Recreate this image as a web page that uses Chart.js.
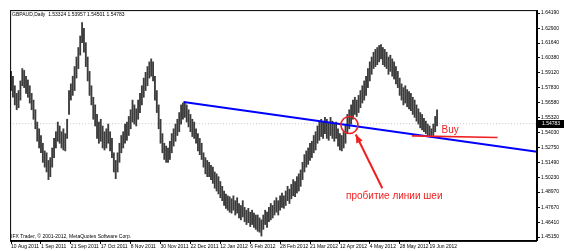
<!DOCTYPE html>
<html>
<head>
<meta charset="utf-8">
<script src="https://cdn.jsdelivr.net/npm/chart.js@4.4.1/dist/chart.umd.min.js"></script>
<style>
  html, body { margin: 0; padding: 0; background: #fff; }
  #wrap { width: 564px; height: 251px; }
</style>
</head>
<body>
<div id="wrap"><canvas id="grafico" width="564" height="251"></canvas></div>
<script>
// GBPAUD daily, 10 Aug 2011 - 22 Jun 2012
const symbolTitle = 'GBPAUD,Daily  1.53324 1.53957 1.54501 1.54783';
const copyright = 'IFX Trader, \u00a9 2001-2012, MetaQuotes Software Corp.';
const lastClose = 1.54783;

const dateLabels = ['10 Aug 2011', '1 Sep 2011', '21 Sep 2011', '17 Oct 2011', '8 Nov 2011',
  '30 Nov 2011', '22 Dec 2011', '12 Jan 2012', '6 Feb 2012', '28 Feb 2012', '21 Mar 2012',
  '12 Apr 2012', '4 May 2012', '28 May 2012', '19 Jun 2012'];
const dateTickBars = [0, 16, 32, 48, 64, 80, 96, 112, 128, 144, 160, 176, 192, 208, 224];

const priceTicks = [1.64190, 1.62900, 1.61640, 1.60380, 1.59120, 1.57830, 1.56580, 1.55320,
  1.54030, 1.52750, 1.51490, 1.50230, 1.48970, 1.47670, 1.46410, 1.45150];

const highs = [
  1.5923, 1.5882, 1.5801, 1.5736, 1.5760, 1.5842, 1.5947, 1.5931, 1.5882, 1.5850,
  1.5801, 1.5736, 1.5679, 1.5597, 1.5492, 1.5435, 1.5378, 1.5312, 1.5247, 1.5231,
  1.5166, 1.5190, 1.5272, 1.5353, 1.5410, 1.5492, 1.5459, 1.5410, 1.5435, 1.5394,
  1.5516, 1.5760, 1.5817, 1.5882, 1.5964, 1.6045, 1.6126, 1.6224, 1.6338, 1.6289,
  1.6167, 1.6045, 1.5923, 1.5801, 1.5703, 1.5638, 1.5557, 1.5492, 1.5516, 1.5459,
  1.5410, 1.5435, 1.5475, 1.5410, 1.5353, 1.5231, 1.5166, 1.5231, 1.5312, 1.5378,
  1.5410, 1.5475, 1.5492, 1.5540, 1.5597, 1.5679, 1.5638, 1.5605, 1.5679, 1.5736,
  1.5801, 1.5866, 1.5915, 1.5964, 1.6004, 1.6029, 1.6004, 1.5882, 1.5760, 1.5638,
  1.5516, 1.5394, 1.5312, 1.5288, 1.5272, 1.5329, 1.5394, 1.5435, 1.5475, 1.5516,
  1.5573, 1.5638, 1.5654, 1.5662, 1.5638, 1.5597, 1.5557, 1.5516, 1.5492, 1.5435,
  1.5394, 1.5353, 1.5312, 1.5231, 1.5190, 1.5166, 1.5150, 1.5125, 1.5109, 1.5068,
  1.5052, 1.5028, 1.4987, 1.4946, 1.4906, 1.4881, 1.4865,
  1.4857, 1.4840, 1.4865, 1.4824, 1.4849, 1.4800, 1.4783, 1.4824, 1.4767, 1.4743,
  1.4759, 1.4726, 1.4743, 1.4718, 1.4702,
  1.4702, 1.4677, 1.4661, 1.4702, 1.4743, 1.4726, 1.4767, 1.4800, 1.4783, 1.4824,
  1.4849, 1.4824, 1.4865, 1.4889, 1.4865, 1.4906, 1.4946, 1.4922, 1.4962, 1.5003,
  1.4987, 1.5028, 1.5052, 1.5085, 1.5150, 1.5215, 1.5247, 1.5272, 1.5312, 1.5329,
  1.5378, 1.5410, 1.5459, 1.5492, 1.5516, 1.5492, 1.5532, 1.5516, 1.5492, 1.5532,
  1.5500, 1.5475, 1.5492, 1.5435, 1.5394, 1.5378, 1.5410, 1.5475, 1.5557, 1.5597,
  1.5638, 1.5679, 1.5703, 1.5679, 1.5719, 1.5760, 1.5801, 1.5842, 1.5882, 1.5947,
  1.6004, 1.6045, 1.6086, 1.6110, 1.6126, 1.6143, 1.6151, 1.6126, 1.6110, 1.6086,
  1.6045, 1.6061, 1.6029, 1.6004, 1.5964, 1.5923, 1.5866, 1.5817,
  1.5785, 1.5801, 1.5768, 1.5752, 1.5736, 1.5703, 1.5679, 1.5638, 1.5605,
  1.5573, 1.5557, 1.5524, 1.5500, 1.5475, 1.5459, 1.5435, 1.5475, 1.5540, 1.5597
];
const lows = [
  1.5760, 1.5703, 1.5638, 1.5597, 1.5614, 1.5679, 1.5801, 1.5785, 1.5736, 1.5703,
  1.5654, 1.5597, 1.5516, 1.5435, 1.5329, 1.5272, 1.5231, 1.5150, 1.5109, 1.5068,
  1.5003, 1.5028, 1.5109, 1.5190, 1.5272, 1.5329, 1.5312, 1.5272, 1.5255, 1.5247,
  1.5353, 1.5557, 1.5679, 1.5719, 1.5760, 1.5866, 1.5947, 1.6061, 1.6167, 1.6086,
  1.5964, 1.5842, 1.5719, 1.5638, 1.5516, 1.5459, 1.5353, 1.5312, 1.5329, 1.5272,
  1.5255, 1.5272, 1.5312, 1.5247, 1.5190, 1.5068, 1.5011, 1.5068, 1.5150, 1.5231,
  1.5272, 1.5312, 1.5337, 1.5378, 1.5435, 1.5492, 1.5475, 1.5459, 1.5516, 1.5573,
  1.5638, 1.5703, 1.5760, 1.5801, 1.5866, 1.5882, 1.5842, 1.5679, 1.5573, 1.5435,
  1.5312, 1.5231, 1.5174, 1.5150, 1.5150, 1.5174, 1.5231, 1.5288, 1.5329, 1.5378,
  1.5410, 1.5475, 1.5516, 1.5532, 1.5492, 1.5451, 1.5410, 1.5369, 1.5353, 1.5312,
  1.5247, 1.5215, 1.5174, 1.5109, 1.5052, 1.5028, 1.5028, 1.5003, 1.4971, 1.4930,
  1.4906, 1.4881, 1.4849, 1.4824, 1.4783, 1.4759, 1.4743,
  1.4726, 1.4718, 1.4743, 1.4702, 1.4718, 1.4677, 1.4661, 1.4686, 1.4645, 1.4621,
  1.4637, 1.4604, 1.4621, 1.4596, 1.4580,
  1.4564, 1.4556, 1.4523, 1.4580, 1.4621, 1.4596, 1.4645, 1.4661, 1.4677, 1.4702,
  1.4726, 1.4702, 1.4743, 1.4767, 1.4759, 1.4783, 1.4824, 1.4800, 1.4840, 1.4865,
  1.4857, 1.4889, 1.4906, 1.4946, 1.5003, 1.5068, 1.5109, 1.5133, 1.5166, 1.5190,
  1.5231, 1.5255, 1.5312, 1.5337, 1.5369, 1.5353, 1.5394, 1.5353, 1.5337, 1.5378,
  1.5353, 1.5329, 1.5353, 1.5288, 1.5255, 1.5247, 1.5272, 1.5312, 1.5394, 1.5435,
  1.5475, 1.5516, 1.5557, 1.5540, 1.5573, 1.5614, 1.5654, 1.5679, 1.5719, 1.5785,
  1.5842, 1.5898, 1.5947, 1.5964, 1.5980, 1.6004, 1.6029, 1.5980, 1.5964, 1.5947,
  1.5898, 1.5923, 1.5882, 1.5858, 1.5817, 1.5785, 1.5719, 1.5679,
  1.5638, 1.5654, 1.5622, 1.5605, 1.5589, 1.5557, 1.5532, 1.5500, 1.5475,
  1.5443, 1.5426, 1.5410, 1.5394, 1.5378, 1.5369, 1.5361, 1.5378, 1.5410, 1.5459
];

// drawn objects (bar index, price)
const necklineBars = [92.3, 281.5];
const necklinePrices = [1.5662, 1.5239];
const buyLineBars = [214.5, 260.4];
const buyLinePrices = [1.5375, 1.5361];
const arrowBars = [198.7, 184.5];
const arrowPrices = [1.4930, 1.5386];
const circleBar = 181.1, circlePrice = 1.5467;
const breakText = 'пробитие линии шеи', breakTextBar = 205.1, breakTextPrice = 1.4865;
const buyText = 'Buy', buyTextBar = 230.4, buyTextPrice = 1.5426;

const X_MIN = -0.527, X_MAX = 281.5;
const Y_MIN = 1.4482, Y_MAX = 1.6444;
const RED = '#f02020';
const tinyFont = { family: 'Liberation Sans', size: 5 };

function pts(xs, ys) { return xs.map((x, i) => ({ x: x, y: ys[i] })); }

const decorPlugin = {
  id: 'decor',
  afterDraw(chart) {
    const ctx = chart.ctx, a = chart.chartArea;
    const sx = chart.scales.x, sy = chart.scales.y;
    ctx.save();
    // frame
    ctx.strokeStyle = '#000';
    ctx.lineWidth = 1;
    ctx.strokeRect(a.left + 0.5, a.top + 0.5, a.right - a.left - 1, a.bottom - a.top);
    // texts in the corner
    ctx.fillStyle = '#000';
    ctx.font = '5px "Liberation Sans"';
    ctx.textBaseline = 'middle';
    ctx.textAlign = 'left';
    ctx.fillText(symbolTitle, a.left + 2, a.top + 5);
    ctx.fillText(copyright, a.left + 1, a.bottom - 4);
    // arrow head
    const x1 = sx.getPixelForValue(arrowBars[0]), y1 = sy.getPixelForValue(arrowPrices[0]);
    const x2 = sx.getPixelForValue(arrowBars[1]), y2 = sy.getPixelForValue(arrowPrices[1]);
    const ang = Math.atan2(y2 - y1, x2 - x1);
    ctx.fillStyle = RED;
    ctx.beginPath();
    ctx.moveTo(x2, y2);
    ctx.lineTo(x2 - 9 * Math.cos(ang - 0.4), y2 - 9 * Math.sin(ang - 0.4));
    ctx.lineTo(x2 - 9 * Math.cos(ang + 0.4), y2 - 9 * Math.sin(ang + 0.4));
    ctx.closePath();
    ctx.fill();
    // red labels
    ctx.font = '10px "Liberation Sans"';
    ctx.textAlign = 'center';
    ctx.fillText(breakText, sx.getPixelForValue(breakTextBar), sy.getPixelForValue(breakTextPrice));
    ctx.textAlign = 'left';
    ctx.fillText(buyText, sx.getPixelForValue(buyTextBar), sy.getPixelForValue(buyTextPrice));
    // current price box on the axis
    const yp = Math.round(sy.getPixelForValue(lastClose));
    ctx.fillStyle = '#000';
    ctx.fillRect(a.right, yp - 4, 27, 8);
    ctx.fillStyle = '#fff';
    ctx.font = '5px "Liberation Sans"';
    ctx.fillText(lastClose.toFixed(5), a.right + 5, yp);
    ctx.restore();
  }
};

const config = {
  data: {
    datasets: [
      {
        type: 'line', order: 20,
        data: pts([X_MIN, X_MAX], [lastClose, lastClose]),
        borderColor: '#c8c8c8', borderWidth: 1, borderDash: [1, 2], pointRadius: 0
      },
      {
        type: 'bar', order: 10,
        data: highs.map((h, i) => ({ x: i, y: [lows[i], h] })),
        backgroundColor: '#3c3c3c', barThickness: 1.2, borderWidth: 0, grouped: false
      },
      {
        type: 'line', order: 3,
        data: pts(necklineBars, necklinePrices),
        borderColor: '#0000ff', borderWidth: 2, pointRadius: 0
      },
      {
        type: 'line', order: 2,
        data: pts(buyLineBars, buyLinePrices),
        borderColor: RED, borderWidth: 1.6, pointRadius: 0
      },
      {
        type: 'line', order: 1,
        data: pts(arrowBars, arrowPrices),
        borderColor: RED, borderWidth: 2, pointRadius: 0
      },
      {
        type: 'line', order: 1, showLine: false,
        data: [{ x: circleBar, y: circlePrice }],
        pointRadius: 8.5, pointBorderColor: RED, pointBorderWidth: 1.6,
        pointBackgroundColor: 'rgba(0,0,0,0)'
      }
    ]
  },
  options: {
    responsive: false,
    animation: false,
    devicePixelRatio: 1,
    layout: { padding: { left: 1, top: 0, right: 0, bottom: 0 } },
    plugins: { legend: { display: false }, tooltip: { enabled: false } },
    scales: {
      x: {
        type: 'linear', min: X_MIN, max: X_MAX, offset: false,
        afterBuildTicks: s => { s.ticks = dateTickBars.map(v => ({ value: v })); },
        afterFit: s => { s.height = 9; },
        ticks: {
          autoSkip: false, maxRotation: 0, align: 'start', padding: 0,
          color: '#000', font: tinyFont,
          callback: v => dateLabels[dateTickBars.indexOf(v)]
        },
        grid: { offset: false, drawOnChartArea: false, tickLength: 3, tickColor: '#000' },
        border: { display: true, color: '#000' }
      },
      y: {
        type: 'linear', position: 'right', min: Y_MIN, max: Y_MAX,
        afterBuildTicks: s => { s.ticks = priceTicks.map(v => ({ value: v })); },
        afterFit: s => { s.width = 27; },
        ticks: {
          padding: 1, color: '#000', font: tinyFont,
          callback: v => v.toFixed(5)
        },
        grid: { drawOnChartArea: false, tickLength: 3, tickColor: '#000' },
        border: { display: true, color: '#000' }
      }
    }
  },
  plugins: [decorPlugin]
};

new Chart(document.getElementById('grafico').getContext('2d'), config);
</script>
</body>
</html>
